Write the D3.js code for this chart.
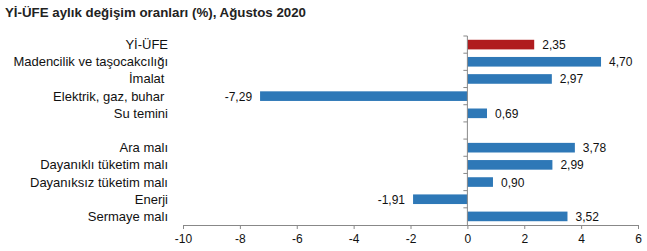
<!DOCTYPE html>
<html><head><meta charset="utf-8">
<script src="https://cdn.jsdelivr.net/npm/d3@7"></script>
<style>
html,body{margin:0;padding:0;background:#fff;}
text{font-family:Arial,"Liberation Sans",sans-serif;}
</style></head>
<body>
<svg id="c" width="647" height="251"></svg>
<script>
const title = "Yİ-ÜFE aylık değişim oranları (%), Ağustos 2020";
const categories = ["Yİ-ÜFE","Madencilik ve taşocakcılığı","İmalat\u00a0","Elektrik, gaz, buhar\u00a0","Su temini","","Ara malı","Dayanıklı tüketim malı","Dayanıksız tüketim malı","Enerji","Sermaye malı"];
const values = [2.35,4.70,2.97,-7.29,0.69,null,3.78,2.99,0.90,-1.91,3.52];
const highlight = [true,false,false,false,false,false,false,false,false,false,false];
const xTicks = [-10,-8,-6,-4,-2,0,2,4,6];

const svg = d3.select("#c");
const m = {left:183, right:9, top:36, bottom:26};
const W = 647, H = 251;
const x = d3.scaleLinear().domain([-10,6]).range([m.left, W-m.right]);
const y = d3.scaleBand().domain(d3.range(categories.length)).range([m.top, H-m.bottom]).paddingInner(0.44).paddingOuter(0.22);
const yb = d3.scaleBand().domain(d3.range(categories.length)).range([m.top, H-m.bottom]);

svg.append("text").attr("x",5).attr("y",17).attr("font-weight","bold").attr("font-size","13.3px").attr("fill","#222").text(title);

// bars
const fmt = v => v.toFixed(2).replace(".", ",");
const data = values.map((v,i)=>({v,i})).filter(d=>d.v!==null);
svg.selectAll("rect.bar").data(data).enter().append("rect")
  .attr("x",d=>x(Math.min(0,d.v))).attr("width",d=>Math.abs(x(d.v)-x(0)))
  .attr("y",d=>y(d.i)).attr("height",y.bandwidth())
  .attr("fill",d=>highlight[d.i]?"#b01c1f":"#2e78b7");

svg.selectAll("text.val").data(data).enter().append("text")
  .attr("x",d=>d.v>=0? x(d.v)+8 : x(d.v)-8)
  .attr("text-anchor",d=>d.v>=0?"start":"end")
  .attr("y",d=>y(d.i)+y.bandwidth()/2+4.5)
  .attr("font-size","12px").attr("fill","#111").text(d=>fmt(d.v));

// category labels
svg.selectAll("text.cat").data(categories).enter().append("text")
  .attr("x",168).attr("text-anchor","end").attr("xml:space","preserve")
  .attr("y",(d,i)=>yb(i)+yb.bandwidth()/2+4.5)
  .attr("font-size","13px").attr("fill","#111").text(d=>d);

// x axis
const xAxis = d3.axisBottom(x).tickValues(xTicks).tickSize(4).tickSizeOuter(0).tickFormat(d=>d);
const gx = svg.append("g").attr("transform",`translate(0,${H-m.bottom})`).call(xAxis);
gx.select(".domain").attr("stroke","#888");
gx.selectAll(".tick line").attr("stroke","#888");
gx.selectAll(".tick text").attr("font-size","12px").attr("fill","#111").attr("dy","0.9em").attr("font-family","Arial, 'Liberation Sans', sans-serif");

// y axis at zero
const ticksY = d3.range(categories.length).map(i=>yb(i));
const gy = svg.append("g");
gy.append("line").attr("x1",x(0)).attr("x2",x(0)).attr("y1",m.top).attr("y2",H-m.bottom).attr("stroke","#888");
gy.selectAll("line.t").data(ticksY).enter().append("line")
  .attr("x1",x(0)-4).attr("x2",x(0)).attr("y1",d=>d).attr("y2",d=>d).attr("stroke","#888");
</script>
</body></html>
